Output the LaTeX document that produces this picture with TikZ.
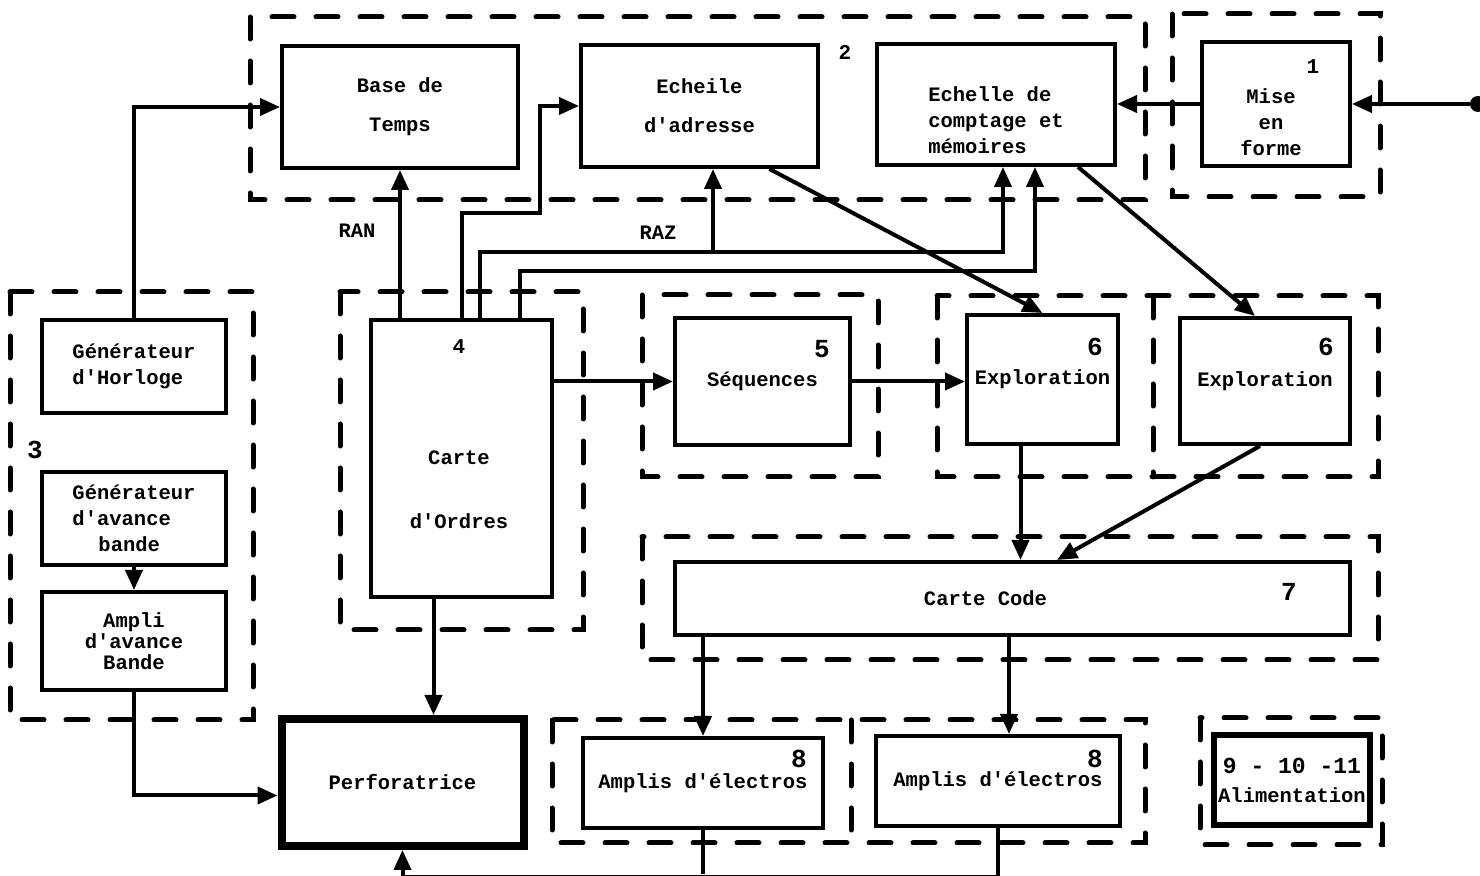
\documentclass[tikz,border=0pt]{standalone}
\usepackage{fontspec}
\newfontfamily\typefont{Liberation Mono}
\usetikzlibrary{arrows.meta,calc}

\tikzset{
  box/.style={draw, line width=2pt, inner sep=2pt, align=center,
    font=\typefont\bfseries\fontsize{10.25}{13}\selectfont},
  boxsize/.style 2 args={minimum width=#1*0.5pt, minimum height=#2*0.5pt},
  txt/.style={inner sep=0pt, font=\typefont\bfseries\fontsize{10.25}{13}\selectfont},
  num/.style={inner sep=0pt, font=\typefont\bfseries\fontsize{13}{13}\selectfont},
  smallnum/.style={inner sep=0pt, font=\typefont\bfseries\fontsize{10.5}{13}\selectfont},
  conn/.style={line width=2pt, -{Triangle[length=10pt,width=8.5pt]}},
  wire/.style={line width=2pt},
  group/.style={line width=2.5pt, dash pattern=on 11pt off 11pt, line cap=round},
}

\begin{document}
\begin{tikzpicture}[x=0.5pt, y=-0.5pt]
\useasboundingbox (0,0) rectangle (1480,876);

% dashed groups
\draw[group] (250,17) rectangle (1145,200);
\draw[group] (1172,14) rectangle (1380,197);
\draw[group] (10,292) rectangle (253,720);
\draw[group] (340,292) rectangle (583,630);
\draw[group] (642,295) rectangle (878,477);
\draw[group] (937,296) rectangle (1378,477);
\draw[group] (1153,296) -- (1153,477);
\draw[group] (642,537) rectangle (1378,660);
\draw[group] (552,720) rectangle (1145,843);
\draw[group] (851,720) -- (851,843);
\draw[group] (1200,718) rectangle (1382,845);

% top row
\node[box, boxsize={236}{122}] (base) at (400,107) {Base de\\[6.5pt]Temps};
\node[box, boxsize={237}{122}] (echad) at (699.5,106) {Echeile\\[6.5pt]d'adresse};
\node[box, boxsize={238}{121}] (echcpt) at (996,104.5) {};
\node[txt, align=left] (echcpttext) at (996,120) {Echelle de\\comptage et\\mémoires};
\node[box, boxsize={148}{124}] (mise) at (1276,104) {};
\node[txt, align=center] (misetext) at (1271,122) {Mise\\en\\forme};
\node[fill, circle, inner sep=0pt, minimum size=8pt] (entree) at (1478,104) {};

% left column
\node[box, boxsize={184}{93}, align=left] (horl) at (134,366.5) {Générateur\\d'Horloge};
\node[box, boxsize={184}{93}, align=left] (genav) at (134,518.5) {Générateur\\d'avance\\\hspace*{13pt}bande};
\node[box, boxsize={184}{98}] (ampli) at (134,641) {Ampli\\[-2.5pt]d'avance\\[-2.5pt]Bande};

% middle
\node[box, boxsize={181}{277}] (ordres) at (461.5,458.5) {};
\node[txt, align=center] (ordrestext) at (459,490) {Carte\\[19pt]d'Ordres};
\node[box, boxsize={175}{127}] (seq) at (762.5,381.5) {Séquences};
\node[box, boxsize={151}{129}] (expl1) at (1042.5,379.5) {Exploration};
\node[box, boxsize={170}{126}] (expl2) at (1265,381) {Exploration};
\node[box, boxsize={675}{73}] (code) at (1012.5,598.5) {Carte Code\hspace*{27pt}};

% bottom row
\node[box, boxsize={242}{127}, line width=4pt] (perfo) at (402.5,782.5) {Perforatrice};
\node[box, boxsize={240}{90}] (amp1) at (703,783) {Amplis d'électros};
\node[box, boxsize={244}{90}] (amp2) at (998,781) {Amplis d'électros};
\node[box, boxsize={156}{90}, line width=3pt, inner sep=0.5pt] (alim) at (1292,780)
  {{\fontsize{11.5}{13}\selectfont 9 - 10 -11}\\[1.5pt]Alimentation};

% numbers
\node[smallnum] (n1) at (1313,67) {1};
\node[smallnum] (n2) at (845,52) {2};
\node[num] (n3) at (35,450) {3};
\node[smallnum] (n4) at (459,347) {4};
\node[num] (n5) at (822,349) {5};
\node[num] (n6a) at (1095,347) {6};
\node[num] (n6b) at (1326,347) {6};
\node[num] (n7) at (1289,592) {7};
\node[num] (n8a) at (799,759) {8};
\node[num] (n8b) at (1095,759) {8};
\node[txt] (ran) at (357,231) {RAN};
\node[txt] (raz) at (658,233) {RAZ};

% connectors
\draw[conn] (horl.north) |- (base.west);
\draw[conn] (genav.south) -- (ampli.north);
\draw[conn] (ampli.south) |- ($(perfo.west)+(0,13)$);
\draw[conn] (ordres.north -| base.south) -- (base.south);
\draw[conn] (ordres.north) |- ($(echad.west)+(-39,107)$) |- (echad.west);
\draw[conn] ($(ordres.north)+(18.5,0)$) |- ($(echcpt.south)+(7,85)$) -- ($(echcpt.south)+(7,0)$);
\draw[conn] ($(echad.south)+(13.5,83)$) -- ($(echad.south)+(13.5,0)$);
\draw[conn] ($(ordres.north)+(58.5,0)$) |- ($(echcpt.south)+(39,104)$) -- ($(echcpt.south)+(39,0)$);
\draw[conn] (entree) -- (entree -| mise.east);
\draw[conn] (mise.west) -- (mise.west -| echcpt.east);
\draw[conn] ($(echad.south)+(70,0)$) -- (expl1.north);
\draw[conn] ($(echcpt.south)+(82,0)$) -- ($(expl2.north)+(-10,0)$);
\draw[conn] (seq.west -| ordres.east) -- (seq.west);
\draw[conn] (seq.east) -- (seq.east -| expl1.west);
\coordinate (e1out) at ($(expl1.south)+(-22,0)$);
\draw[conn] (e1out) -- (e1out |- code.north);
\draw[conn] ($(expl2.south)+(-5,0)$) -- ($(code.north)+(44.5,0)$);
\draw[conn] (code.south -| amp1.north) -- (amp1.north);
\coordinate (a2in) at ($(amp2.north)+(11,0)$);
\draw[conn] (a2in |- code.south) -- (a2in);
\coordinate (ordout) at ($(ordres.south)+(-28,0)$);
\draw[conn] (ordout) -- (ordout |- perfo.north);
\draw[conn] (amp2.south) |- ($(perfo.south)+(0,27)$) -- (perfo.south);
\draw[wire] (amp1.south) -- ++(0,44);

\end{tikzpicture}
\end{document}
